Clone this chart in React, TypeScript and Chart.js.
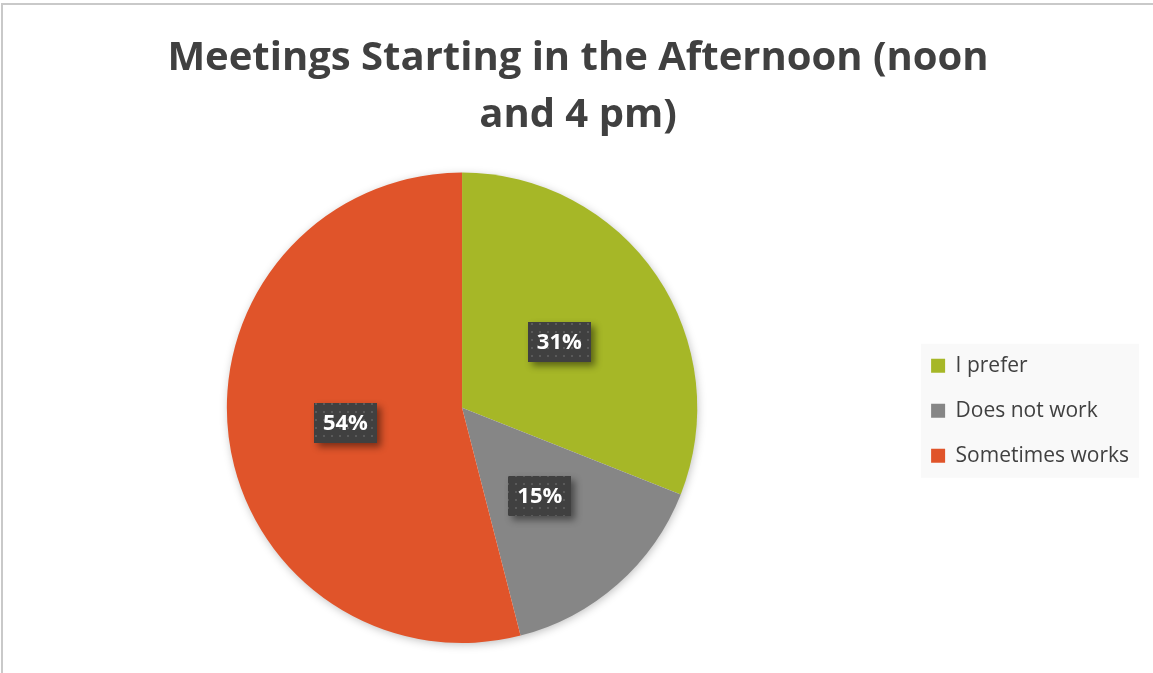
import React, { useEffect, useRef } from "react";
import { Chart, registerables } from "chart.js";

Chart.register(...registerables);

const titleLines = ["Meetings Starting in the Afternoon (noon", "and 4 pm)"];
const categories = ["I prefer", "Does not work", "Sometimes works"];
const values = [31, 15, 54];
const sliceColors = ["#a6b727", "#868686", "#e0542a"];

const FONT = "'Open Sans', Lato, sans-serif";

function makePattern(ctx: CanvasRenderingContext2D) {
  const c = document.createElement("canvas");
  c.width = 8;
  c.height = 8;
  const p = c.getContext("2d")!;
  p.fillStyle = "#404040";
  p.fillRect(0, 0, 8, 8);
  p.fillStyle = "#5a5a5a";
  p.fillRect(3, 3, 2, 2);
  return ctx.createPattern(c, "repeat");
}

const pieShadow = {
  id: "pieShadow",
  beforeDatasetsDraw(chart: any) {
    const meta = chart.getDatasetMeta(0);
    const arc = meta.data[0];
    if (!arc) return;
    const { x, y, outerRadius } = arc.getProps(["x", "y", "outerRadius"], true);
    const ctx = chart.ctx;
    ctx.save();
    ctx.shadowColor = "rgba(0,0,0,0.28)";
    ctx.shadowBlur = 10;
    ctx.shadowOffsetX = 1;
    ctx.shadowOffsetY = 2;
    ctx.beginPath();
    ctx.arc(x, y, outerRadius - 1, 0, Math.PI * 2);
    ctx.fillStyle = "#ffffff";
    ctx.fill();
    ctx.restore();
  },
};

const boxLabels = {
  id: "boxLabels",
  afterDatasetsDraw(chart: any) {
    const ctx = chart.ctx;
    const meta = chart.getDatasetMeta(0);
    const data = chart.data.datasets[0].data as number[];
    const total = data.reduce((a, b) => a + b, 0);
    const pattern = makePattern(ctx);
    meta.data.forEach((arc: any, i: number) => {
      const pt = arc.getCenterPoint(true);
      const w = 63;
      const h = 40;
      const bx = Math.round(pt.x - w / 2);
      const by = Math.round(pt.y - h / 2);
      ctx.save();
      ctx.shadowColor = "rgba(0,0,0,0.45)";
      ctx.shadowBlur = 7;
      ctx.shadowOffsetX = 4;
      ctx.shadowOffsetY = 4;
      ctx.fillStyle = "#404040";
      ctx.fillRect(bx, by, w, h);
      ctx.restore();
      ctx.save();
      ctx.fillStyle = pattern || "#404040";
      ctx.fillRect(bx, by, w, h);
      ctx.fillStyle = "#ffffff";
      ctx.font = `bold 22px ${FONT}`;
      ctx.textAlign = "center";
      ctx.textBaseline = "middle";
      const txt = Math.round((data[i] / total) * 100) + "%";
      ctx.fillText(txt, pt.x, pt.y + 1);
      ctx.restore();
    });
  },
};

const legendBg = {
  id: "legendBg",
  beforeDraw(chart: any) {
    const lg = chart.legend;
    if (!lg || !lg.legendHitBoxes || !lg.legendHitBoxes.length) return;
    const hb = lg.legendHitBoxes;
    const left = Math.min(...hb.map((b: any) => b.left)) - 10;
    const right = Math.max(...hb.map((b: any) => b.left + b.width)) + 10;
    const first = hb[0];
    const last = hb[hb.length - 1];
    const top = first.top + first.height / 2 - 22;
    const bottom = last.top + last.height / 2 + 22;
    const ctx = chart.ctx;
    ctx.save();
    ctx.fillStyle = "#f9f9f9";
    ctx.fillRect(left, top, right - left, bottom - top);
    ctx.restore();
  },
};

export default function App() {
  const ref = useRef<HTMLCanvasElement | null>(null);
  useEffect(() => {
    if (!ref.current) return;
    const chart = new Chart(ref.current, {
      type: "pie",
      data: {
        labels: categories,
        datasets: [
          {
            data: values,
            backgroundColor: sliceColors,
            borderWidth: 0,
          },
        ],
      },
      options: {
        responsive: true,
        maintainAspectRatio: false,
        animation: false,
        layout: { padding: { top: 0, left: 17, right: 14, bottom: 30 } },
        plugins: {
          title: {
            display: true,
            text: titleLines,
            color: "#404040",
            font: { family: FONT, size: 40, weight: "bold", lineHeight: 1.42 },
            padding: { top: 30, bottom: 29 },
          },
          legend: {
            position: "right",
            align: "center",
            fullSize: false,
            title: {
              display: true,
              text: "",
              font: { size: 5, lineHeight: 1.2 },
              padding: 0,
            },
            labels: {
              boxWidth: 14,
              boxHeight: 14,
              padding: 24,
              color: "#404040",
              font: { family: FONT, size: 21 },
            },
          },
          tooltip: { enabled: false },
        },
      },
      plugins: [legendBg, pieShadow, boxLabels],
    });
    return () => chart.destroy();
  }, []);
  return (
    <div
      style={{
        position: "fixed",
        left: 0,
        top: 0,
        width: 1153,
        height: 673,
        overflow: "hidden",
        background: "#ffffff",
      }}
    >
      <canvas ref={ref} />
      <div
        style={{
          position: "absolute",
          left: 1,
          top: 3,
          width: 1300,
          height: 800,
          borderLeft: "2px solid #c9c9c9",
          borderTop: "2px solid #c9c9c9",
          pointerEvents: "none",
        }}
      />
    </div>
  );
}
